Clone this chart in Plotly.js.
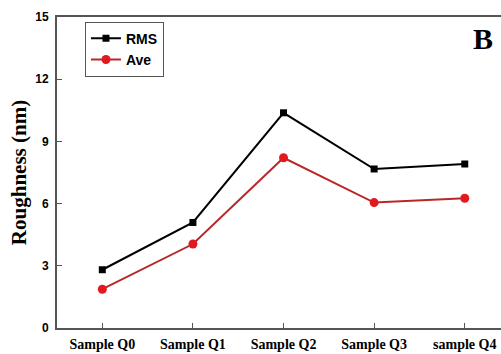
<!DOCTYPE html>
<html>
<head>
<meta charset="utf-8">
<script src="https://cdn.plot.ly/plotly-3.0.1.min.js"></script>
<style>html,body{margin:0;padding:0;background:#fff;}#chart{width:501px;height:354px;}</style>
</head>
<body>
<div id="chart"></div>
<script>
const categories = ["Sample Q0", "Sample Q1", "Sample Q2", "Sample Q3", "sample Q4"];
const rmsValues = [2.81, 5.09, 10.38, 7.67, 7.91];
const aveValues = [1.87, 4.05, 8.21, 6.05, 6.26];
const yTicks = [0, 3, 6, 9, 12, 15];

const idx = categories.map((c, i) => i);

const traces = [
  {
    x: idx, y: rmsValues, name: "RMS", type: "scatter", mode: "lines+markers",
    line: {color: "#000000", width: 2},
    marker: {symbol: "square", size: 7, color: "#000000"}
  },
  {
    x: idx, y: aveValues, name: "Ave", type: "scatter", mode: "lines+markers",
    line: {color: "#b8282a", width: 2},
    marker: {symbol: "circle", size: 9, color: "#e01a1f"}
  }
];

const layout = {
  width: 501, height: 354,
  margin: {l: 57, r: 0, t: 17, b: 26, pad: 0},
  paper_bgcolor: "#ffffff", plot_bgcolor: "#ffffff",
  showlegend: true,
  legend: {
    x: 0.063, y: 0.985, xanchor: "left", yanchor: "top",
    bgcolor: "#ffffff", bordercolor: "#555555", borderwidth: 1,
    font: {family: "Liberation Sans, Arial, sans-serif", size: 14, color: "#000", weight: "bold"},
    tracegroupgap: 0, itemwidth: 30
  },
  xaxis: {
    range: [-0.5, 4.4],
    tickmode: "array", tickvals: idx, ticktext: categories,
    ticks: "inside", ticklen: 5, tickwidth: 1, tickcolor: "#555",
    showline: true, linecolor: "#555555", linewidth: 2, mirror: true,
    showgrid: false, zeroline: false,
    tickfont: {family: "Liberation Serif, Times New Roman, serif", size: 14, color: "#000", weight: "bold"},
    ticklabelstandoff: 2
  },
  yaxis: {
    range: [0, 15],
    tickmode: "array", tickvals: yTicks, ticktext: yTicks.map(String),
    ticks: "inside", ticklen: 5, tickwidth: 1, tickcolor: "#555",
    showline: true, linecolor: "#555555", linewidth: 2, mirror: false,
    showgrid: false, zeroline: false,
    tickfont: {family: "Liberation Sans, Arial, sans-serif", size: 12, color: "#000", weight: "bold"},
    ticklabelstandoff: 4,
    title: {
      text: "Roughness (nm)", standoff: 3,
      font: {family: "Liberation Serif, Times New Roman, serif", size: 21, color: "#000", weight: "bold"}
    }
  },
  annotations: [
    {
      text: "B", xref: "paper", yref: "paper", x: 0.96, y: 0.93,
      xanchor: "center", yanchor: "middle", showarrow: false,
      font: {family: "Liberation Serif, Times New Roman, serif", size: 30, color: "#000", weight: "bold"}
    }
  ]
};

Plotly.newPlot("chart", traces, layout, {displayModeBar: false, staticPlot: true});
</script>
</body>
</html>
